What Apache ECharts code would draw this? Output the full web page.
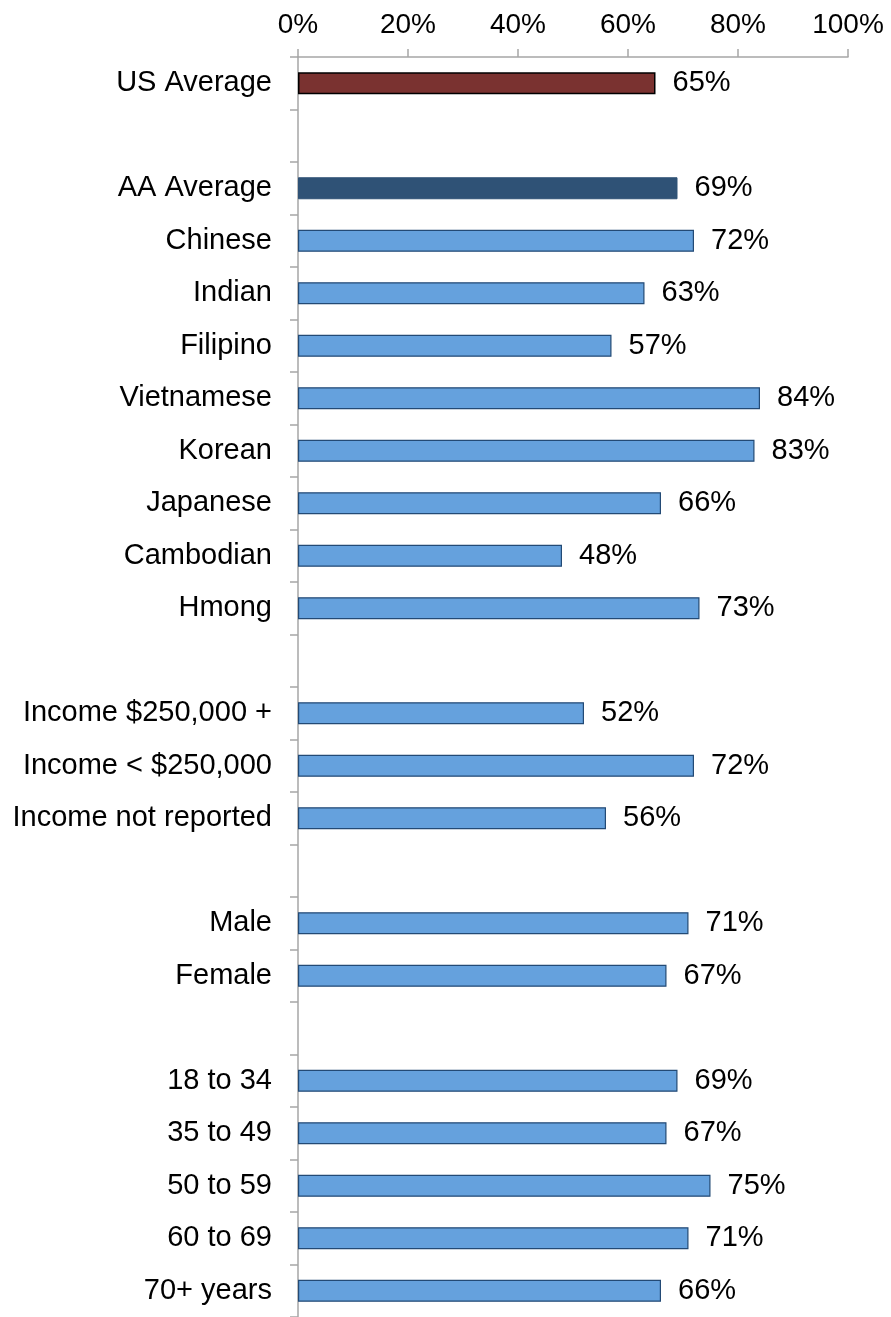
<!DOCTYPE html>
<html>
<head>
<meta charset="utf-8">
<script src="https://cdn.jsdelivr.net/npm/echarts@6/dist/echarts.min.js"></script>
<style>
  html, body { margin: 0; padding: 0; background: #fff; }
  #chart { width: 891px; height: 1317px; }
</style>
</head>
<body>
<div id="chart"></div>
<script>
// categories top to bottom; blank rows are spacers between groups
const categories = [
    'US Average', ' ',
    'AA Average', 'Chinese', 'Indian', 'Filipino', 'Vietnamese', 'Korean', 'Japanese', 'Cambodian', 'Hmong', '  ',
    'Income $250,000 +', 'Income < $250,000', 'Income not reported', '   ',
    'Male', 'Female', '    ',
    '18 to 34', '35 to 49', '50 to 59', '60 to 69', '70+ years'
]
const values = [
    65, null,
    69, 72, 63, 57, 84, 83, 66, 48, 73, null,
    52, 72, 56, null,
    71, 67, null,
    69, 67, 75, 71, 66
]
const xTicks = [0, 20, 40, 60, 80, 100]

const barStyle = (name) => {
    if (name === 'US Average') return {color: '#7a3230', borderColor: '#000000', borderWidth: 1.5}
    if (name === 'AA Average') return {color: '#2f5276', borderColor: '#2f5276', borderWidth: 1}
    return {color: '#65a1dd', borderColor: '#234a75', borderWidth: 1.2}
}

const chart = echarts.init(document.getElementById('chart'))
const font = 'Liberation Sans, Arial, sans-serif'

const option = {
    animation: false,
    backgroundColor: '#ffffff',
    grid: {
        left: 298,
        top: 57,
        width: 550,
        height: 1262,
    },
    xAxis: {
        type: 'value',
        position: 'top',
        min: xTicks[0],
        max: xTicks[xTicks.length - 1],
        interval: 20,
        splitLine: {show: false},
        axisLine: {show: true, lineStyle: {color: '#a6a6a6', width: 1.5}},
        axisTick: {show: true, length: 8, lineStyle: {color: '#a6a6a6', width: 1.5}},
        axisLabel: {
            formatter: '{value}%',
            color: '#000',
            fontSize: 28,
            fontFamily: font,
            margin: 18,
        },
    },
    yAxis: {
        type: 'category',
        inverse: true,
        data: categories,
        axisLine: {show: true, lineStyle: {color: '#a6a6a6', width: 1.5}},
        axisTick: {show: true, length: 8, lineStyle: {color: '#a6a6a6', width: 1.5}},
        axisLabel: {
            color: '#000',
            fontSize: 29,
            fontFamily: font,
            margin: 26,
            interval: 0,
        },
    },
    series: [{
        type: 'bar',
        barWidth: 22,
        data: values.map((v, i) => ({
            value: v,
            itemStyle: barStyle(categories[i]),
        })),
        label: {
            show: true,
            position: 'right',
            distance: 17,
            formatter: (p) => p.value == null ? '' : p.value + '%',
            color: '#000',
            fontSize: 29,
            fontFamily: font,
        },
    }],
}
chart.setOption(option)
</script>
</body>
</html>
